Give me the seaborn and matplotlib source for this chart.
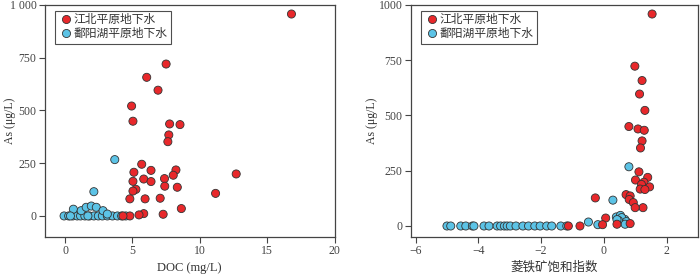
import numpy as np
import pandas as pd
import seaborn as sns
import matplotlib.pyplot as plt

# 江北平原 (red) and 鄱阳湖平原 (blue) groundwater samples
red_label = '江北平原地下水'
blue_label = '鄱阳湖平原地下水'

# panel a: DOC vs As
doc_red = [16.8, 7.5, 6.06, 6.9, 4.94, 5.04, 7.76, 8.53, 7.7, 7.63, 5.69, 6.38, 8.23, 5.11,
           8.03, 12.7, 5.84, 7.38, 5.04, 6.38, 7.4, 8.33, 5.26, 5.04, 11.17, 4.81, 5.94, 7.06,
           8.63, 5.84, 7.28, 5.49, 4.81, 4.3]
as_red_a = [957, 720, 657, 596, 521, 449, 436, 433, 384, 352, 245, 216, 218, 207,
            193, 199, 175, 177, 164, 163, 141, 136, 126, 118, 107, 81, 81, 84,
            35, 11, 8, 5, 0, 0]
doc_blue = [-0.07, 0.27, 0.57, 0.9, 1.15, 1.47, 1.82, 2.14, 2.47, 2.77, 3.14, 3.52, 3.89,
            4.2, 4.51, 0.62, 1.2, 1.57, 1.95, 2.32, 2.82, 2.14, 3.69, 3.14, 0.4, 1.7]
as_blue_a = [0, 0, 0, 0, 0, 0, 0, 0, 0, 0, 0, 0, 0,
             0, 0, 32, 25, 41, 47, 41, 25, 115, 267, 9, 0, 0]

# panel b: siderite saturation index vs As
si_red = [1.54, 0.99, 1.22, 1.14, 1.31, 0.8, 1.09, 1.29, 1.22, 1.17, 1.12, 1.4, 1.01, 1.28,
          1.2, 1.46, 1.16, 1.31, 0.71, 0.84, 0.81, 0.94, 1.25, 1.0, -0.27, 0.06, -0.04,
          0.84, 0.42, -0.76, -1.13]
as_red_b = [959, 723, 658, 597, 523, 450, 439, 433, 385, 353, 245, 220, 208, 198,
            188, 177, 167, 165, 142, 136, 120, 106, 83, 83, 127, 36, 6,
            11, 8, 0, 0]
si_blue = [0.8, 0.29, 0.4, 0.53, 0.67, 0.57, 0.72, 0.47, -0.49, -0.19, 0.42, 0.68,
           -5.0, -4.88, -4.56, -4.4, -4.19, -4.14, -3.82, -3.66, -3.4, -3.29, -3.17, -3.08,
           -2.98, -2.8, -2.58, -2.4, -2.2, -2.03, -1.82, -1.66, -1.37, -1.18]
as_blue_b = [268, 117, 41, 48, 30, 38, 20, 25, 18, 6, 29, 8,
             0, 0, 0, 0, 0, 0, 0, 0, 0, 0, 0, 0,
             0, 0, 0, 0, 0, 0, 0, 0, 0, 0]

df_a = pd.concat([
    pd.DataFrame({'x': doc_blue, 'As': as_blue_a, 'group': blue_label}),
    pd.DataFrame({'x': doc_red, 'As': as_red_a, 'group': red_label}),
], ignore_index=True)
df_b = pd.concat([
    pd.DataFrame({'x': si_blue, 'As': as_blue_b, 'group': blue_label}),
    pd.DataFrame({'x': si_red, 'As': as_red_b, 'group': red_label}),
], ignore_index=True)

sns.set_style('ticks')
plt.rcParams['font.family'] = ['Liberation Serif', 'Noto Sans CJK SC']
plt.rcParams['axes.edgecolor'] = '#444444'
plt.rcParams['xtick.color'] = '#444444'
plt.rcParams['ytick.color'] = '#444444'
plt.rcParams['text.color'] = '#333333'
plt.rcParams['axes.labelcolor'] = '#333333'

palette = {red_label: '#e8282b', blue_label: '#5cc3e6'}

fig = plt.figure(figsize=(7, 2.75), dpi=100)
ax1 = fig.add_axes([0.064, 0.138, 0.414, 0.844])
ax2 = fig.add_axes([0.587, 0.138, 0.41, 0.844])

for ax, df in [(ax1, df_a), (ax2, df_b)]:
    sns.scatterplot(data=df, x='x', y='As', hue='group', hue_order=[red_label, blue_label],
                    palette=palette, s=34, edgecolor='#333333', linewidth=0.6,
                    alpha=1, ax=ax, zorder=3)
    ax.tick_params(labelsize=8.5, length=4, width=0.8, direction='out', pad=2)
    ax.set_ylabel('As (μg/L)', fontsize=8.5)
    for sp in ax.spines.values():
        sp.set_linewidth(0.9)
    leg = ax.legend(loc='upper left', fontsize=8.5, frameon=True, fancybox=False,
                    edgecolor='#222222', handletextpad=0.1, borderpad=0.3,
                    handlelength=1.2, labelspacing=0.15, markerscale=1.0,
                    bbox_to_anchor=(0.035, 0.975), borderaxespad=0)
    leg.get_frame().set_linewidth(0.8)

ax1.yaxis.set_label_coords(-0.1, 0.5)
ax2.yaxis.set_label_coords(-0.115, 0.5)

ax1.set_xlim(-1.5, 20)
ax1.set_ylim(-100, 1000)
ax1.set_xticks([0, 5, 10, 15, 20])
ax1.set_yticks([0, 250, 500, 750, 1000], ['0', '250', '500', '750', '1 000'])
ax1.set_xlabel('DOC (mg/L)', fontsize=9, labelpad=3)

ax2.set_xlim(-6.15, 3)
ax2.set_ylim(-50, 1000)
ax2.set_xticks([-6, -4, -2, 0, 2], ['−6', '−4', '−2', '0', '2'])
ax2.set_yticks([0, 250, 500, 750, 1000])
ax2.set_xlabel('菱铁矿饱和指数', fontsize=9, labelpad=3)

fig.savefig('out.png', dpi=100)
